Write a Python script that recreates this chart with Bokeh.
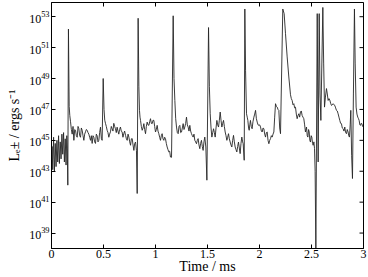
import math
from bokeh.plotting import figure
from bokeh.models import Range1d, FixedTicker, CustomJSTickFormatter, ColumnDataSource
from bokeh.embed import file_html
from bokeh.resources import INLINE

# time in ms
time_ms = [
    0.000, 0.006, 0.012, 0.020, 0.028, 0.036, 0.044, 0.052, 0.060, 0.068, 0.076, 0.084, 0.092, 0.100,
    0.108, 0.116, 0.124, 0.132, 0.140, 0.147, 0.152, 0.157, 0.163, 0.170, 0.176, 0.183, 0.191, 0.199,
    0.207, 0.215, 0.223, 0.231, 0.239, 0.247, 0.255, 0.263, 0.271, 0.279, 0.287, 0.295, 0.303, 0.311,
    0.319, 0.327, 0.335, 0.343, 0.351, 0.359, 0.367, 0.375, 0.383, 0.391, 0.399, 0.407, 0.415, 0.423,
    0.431, 0.439, 0.447, 0.455, 0.463, 0.471, 0.480, 0.487, 0.497, 0.505, 0.512, 0.519, 0.527, 0.535,
    0.543, 0.551, 0.559, 0.567, 0.575, 0.583, 0.591, 0.599, 0.607, 0.615, 0.623, 0.631, 0.639, 0.647,
    0.655, 0.663, 0.671, 0.679, 0.687, 0.695, 0.703, 0.712, 0.720, 0.728, 0.736, 0.744, 0.752, 0.760,
    0.768, 0.776, 0.784, 0.792, 0.800, 0.808, 0.817, 0.824, 0.833, 0.840, 0.846, 0.851, 0.856, 0.864,
    0.872, 0.880, 0.888, 0.896, 0.904, 0.912, 0.920, 0.928, 0.936, 0.944, 0.952, 0.960, 0.968, 0.976,
    0.984, 0.992, 1.000, 1.008, 1.016, 1.024, 1.032, 1.040, 1.048, 1.056, 1.064, 1.072, 1.080, 1.088,
    1.096, 1.104, 1.112, 1.120, 1.128, 1.136, 1.144, 1.154, 1.170, 1.178, 1.186, 1.194, 1.202, 1.210,
    1.218, 1.226, 1.234, 1.242, 1.250, 1.258, 1.266, 1.274, 1.282, 1.290, 1.298, 1.306, 1.314, 1.322,
    1.330, 1.338, 1.346, 1.354, 1.362, 1.370, 1.378, 1.386, 1.394, 1.402, 1.410, 1.418, 1.426, 1.434,
    1.442, 1.450, 1.458, 1.466, 1.474, 1.484, 1.494, 1.510, 1.518, 1.526, 1.534, 1.542, 1.550, 1.558,
    1.566, 1.574, 1.582, 1.590, 1.598, 1.606, 1.614, 1.622, 1.630, 1.638, 1.646, 1.654, 1.662, 1.670,
    1.678, 1.686, 1.694, 1.702, 1.710, 1.718, 1.726, 1.734, 1.742, 1.750, 1.758, 1.766, 1.774, 1.782,
    1.790, 1.798, 1.806, 1.814, 1.822, 1.830, 1.838, 1.843, 1.853, 1.859, 1.866, 1.875, 1.882, 1.888,
    1.895, 1.901, 1.907, 1.913, 1.921, 1.929, 1.937, 1.946, 1.954, 1.962, 1.970, 1.978, 1.986, 1.994,
    2.002, 2.010, 2.018, 2.026, 2.034, 2.042, 2.050, 2.058, 2.066, 2.074, 2.082, 2.090, 2.098, 2.106,
    2.114, 2.122, 2.130, 2.138, 2.146, 2.154, 2.162, 2.170, 2.178, 2.186, 2.194, 2.202, 2.224, 2.237,
    2.250, 2.266, 2.282, 2.298, 2.306, 2.314, 2.322, 2.330, 2.338, 2.346, 2.354, 2.362, 2.370, 2.378,
    2.386, 2.394, 2.402, 2.410, 2.418, 2.426, 2.434, 2.442, 2.452, 2.459, 2.465, 2.472, 2.478, 2.484,
    2.490, 2.497, 2.503, 2.510, 2.516, 2.523, 2.529, 2.535, 2.542, 2.555, 2.564, 2.574, 2.582, 2.590,
    2.609, 2.617, 2.625, 2.634, 2.644, 2.652, 2.660, 2.668, 2.676, 2.684, 2.692, 2.700, 2.708, 2.716,
    2.724, 2.732, 2.740, 2.748, 2.756, 2.764, 2.772, 2.780, 2.788, 2.796, 2.804, 2.812, 2.820, 2.828,
    2.836, 2.844, 2.852, 2.858, 2.865, 2.872, 2.878, 2.886, 2.894, 2.903, 2.913, 2.920, 2.929, 2.937,
    2.945, 2.952, 2.958, 2.965, 2.971, 2.978, 2.984, 2.991, 3.000,
]

# log10 of luminosity (ergs / s)
log10_lum = [
    43.4, 44.6, 43.1, 45.2, 43.0, 44.8, 43.3, 45.0, 43.6, 45.3, 43.5, 44.9, 43.8, 45.4,
    44.1, 45.5, 43.6, 45.1, 43.4, 45.3, 44.5, 42.1, 52.2, 47.2, 46.6, 46.2, 45.7, 45.4,
    45.9, 45.0, 45.7, 45.65, 45.3, 45.2, 45.9, 45.75, 45.3, 45.2, 45.8, 45.65, 45.3, 45.0,
    45.4, 45.55, 45.7, 45.65, 45.5, 45.4, 45.2, 45.0, 45.3, 44.8, 45.3, 45.2, 44.9, 44.8,
    45.4, 45.3, 44.9, 45.0, 45.5, 45.85, 45.1, 45.0, 49.0, 47.0, 46.3, 46.1, 45.9, 45.65,
    45.5, 45.2, 45.4, 45.55, 45.9, 45.75, 45.6, 46.1, 45.9, 45.75, 45.5, 45.85, 45.6, 45.4,
    45.7, 45.86, 45.6, 45.54, 45.2, 45.43, 45.6, 45.32, 45.1, 45.0, 45.4, 45.21, 44.9, 44.68,
    45.1, 45.11, 44.7, 44.35, 44.8, 44.89, 44.35, 41.56, 52.9, 48.5, 46.94, 46.5, 46.29, 45.9,
    45.65, 45.8, 46.08, 45.7, 45.43, 45.9, 46.18, 46.0, 45.97, 46.2, 46.4, 46.1, 46.08, 46.3,
    46.29, 45.9, 45.54, 45.7, 45.97, 45.6, 45.43, 45.2, 45.0, 45.3, 45.43, 45.1, 45.0, 45.2,
    45.11, 44.8, 44.57, 44.4, 44.25, 44.3, 43.92, 43.9, 53.06, 49.0, 47.58, 46.4, 45.86, 45.5,
    45.43, 45.9, 45.97, 45.5, 45.54, 45.8, 46.08, 45.7, 45.86, 46.1, 46.5, 46.0, 45.86, 45.6,
    45.97, 45.6, 45.43, 45.3, 45.21, 45.4, 45.0, 44.9, 44.78, 45.0, 45.11, 44.7, 44.46, 44.8,
    45.0, 44.6, 44.35, 44.9, 45.21, 44.57, 42.42, 52.3, 48.5, 46.72, 45.8, 45.21, 45.5, 45.75,
    45.5, 45.21, 45.8, 46.29, 46.0, 45.86, 46.3, 46.83, 46.3, 45.86, 46.1, 46.29, 45.9, 45.54,
    45.3, 45.0, 45.2, 45.43, 45.1, 44.89, 44.7, 44.57, 45.0, 45.32, 44.9, 44.57, 44.4, 44.25,
    44.6, 44.89, 44.5, 44.14, 44.8, 45.21, 44.9, 44.78, 43.71, 53.5, 49.5, 46.72, 46.5, 46.29,
    45.8, 45.65, 46.0, 46.29, 45.9, 45.75, 46.2, 46.5, 46.7, 46.94, 46.4, 46.18, 46.0, 45.97,
    46.0, 45.86, 45.6, 45.54, 45.8, 45.75, 45.4, 45.21, 45.5, 45.54, 45.0, 44.78, 45.0, 45.11,
    45.3, 45.21, 45.4, 45.54, 46.5, 47.37, 47.2, 47.15, 47.0, 46.94, 45.8, 45.43, 53.5, 53.2,
    51.9, 50.4, 49.1, 47.95, 47.7, 47.58, 47.3, 47.37, 47.1, 47.15, 46.7, 46.4, 46.6, 46.72,
    46.5, 46.83, 46.9, 46.61, 46.5, 46.4, 46.0, 45.54, 45.86, 45.3, 45.21, 45.7, 45.54, 45.0,
    44.89, 45.3, 45.21, 44.8, 44.68, 44.9, 44.46, 43.0, 38.0, 53.2, 43.6, 53.2, 48.0, 46.29,
    53.6, 50.0, 47.15, 47.8, 48.35, 48.0, 47.58, 47.7, 47.6, 47.4, 47.26, 47.3, 47.37, 47.3,
    47.26, 47.1, 46.94, 46.9, 46.72, 46.5, 46.29, 46.1, 46.08, 45.8, 45.75, 45.6, 45.86, 45.5,
    45.43, 45.7, 45.54, 45.3, 45.21, 46.0, 46.94, 44.0, 42.53, 48.0, 53.5, 50.0, 47.15, 46.7,
    46.5, 46.4, 46.29, 46.0, 45.97, 46.1, 46.08, 45.9, 45.86,
]

x_ticks = [0, 0.5, 1, 1.5, 2, 2.5, 3]
y_tick_exponents = [39, 41, 43, 45, 47, 49, 51, 53]

lum = [10.0 ** v for v in log10_lum]
y_ticks = [10.0 ** e for e in y_tick_exponents]

FONT = "Liberation Serif"

x_range = Range1d(0, 3)
y_range = Range1d(1e38, 10 ** 53.92)

p = figure(
    frame_width=312, frame_height=246,
    y_axis_type="log",
    x_range=x_range,
    y_range=y_range,
    output_backend="svg",
    toolbar_location=None,
    min_border_left=51, min_border_right=5, min_border_top=2, min_border_bottom=0,
)
p.background_fill_color = "white"
p.border_fill_color = "white"
p.grid.visible = False
p.outline_line_color = "black"
p.outline_line_width = 1

src = ColumnDataSource(dict(t=time_ms, L=lum))
p.line("t", "L", source=src, line_color="#262626", line_width=0.9)

# bottom axis
xa = p.xaxis[0]
xa.ticker = FixedTicker(ticks=x_ticks)
xa.formatter = CustomJSTickFormatter(code="return String(tick)")
xa.axis_label = "Time / ms"
xa.major_label_standoff = 1
xa.axis_label_standoff = -2

# left axis
ya = p.yaxis[0]
ya.ticker = FixedTicker(ticks=y_ticks)
ya.axis_label = "Lₑ± / ergs s⁻¹"
ya.major_label_standoff = 2
ya.axis_label_standoff = 4

for ax in (xa, ya):
    ax.major_tick_in = 4
    ax.major_tick_out = 0
    ax.minor_tick_in = 0
    ax.minor_tick_out = 0
    ax.axis_line_color = "black"
    ax.major_tick_line_color = "black"
    ax.major_label_text_font = FONT
    ax.major_label_text_font_size = "12px"
    ax.major_label_text_color = "black"
    ax.axis_label_text_font = FONT
    ax.axis_label_text_font_size = "14px"
    ax.axis_label_text_font_style = "normal"
    ax.axis_label_text_color = "black"

# inward ticks on the top and right edges of the frame (clipped to the frame)
p.scatter(x=x_ticks, y=[y_range.end] * len(x_ticks), marker="dash", size=8,
          angle=math.pi / 2, line_color="black", line_width=1)
p.scatter(x=[x_range.end] * len(y_ticks), y=y_ticks, marker="dash", size=8,
          line_color="black", line_width=1)

open("out.html", "w").write(file_html(p, INLINE))
